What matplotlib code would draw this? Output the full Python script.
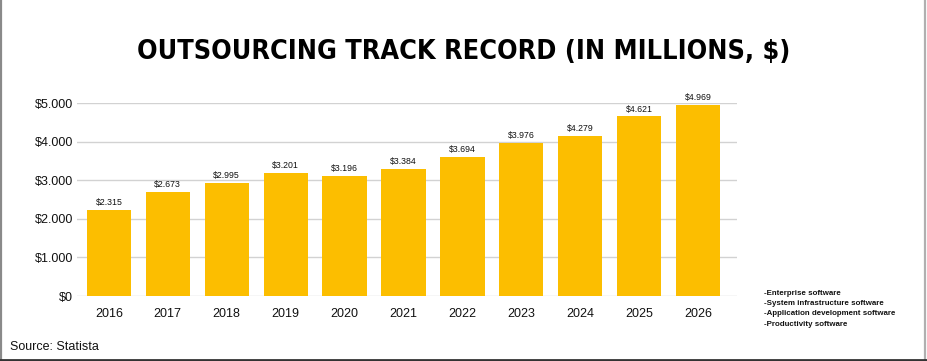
import matplotlib
matplotlib.use('Agg')
import matplotlib.pyplot as plt
from matplotlib.lines import Line2D

# data (bar heights as drawn, labels as printed)
years = ['2016', '2017', '2018', '2019', '2020', '2021',
         '2022', '2023', '2024', '2025', '2026']
bar_heights = [2236, 2694, 2927, 3187, 3109, 3298, 3609, 3972, 4145, 4655, 4956]
bar_texts = ['$2.315', '$2.673', '$2.995', '$3.201', '$3.196', '$3.384',
             '$3.694', '$3.976', '$4.279', '$4.621', '$4.969']
y_ticks = [0, 1000, 2000, 3000, 4000, 5000]
y_ticklabels = ['$0', '$1.000', '$2.000', '$3.000', '$4.000', '$5.000']
legend_items = ['-Enterprise software', '-System infrastructure software',
                '-Application development software', '-Productivity software']

plt.rcParams['font.family'] = ['Liberation Sans', 'DejaVu Sans']

fig = plt.figure(figsize=(9.27, 3.61), dpi=100)
ax = fig.add_axes([0.0831, 0.18, 0.712, 0.5346])

x = list(range(len(years)))
bars = ax.bar(x, bar_heights, width=0.75, color='#FCBE00', zorder=2)
ax.bar_label(bars, labels=bar_texts, padding=2, fontsize=6.3, color='#111111')

ax.set_xlim(-0.54, 10.66)
ax.set_ylim(0, 5000)
ax.set_xticks(x)
ax.set_xticklabels(years, fontsize=9, color='#111111')
ax.set_yticks(y_ticks)
ax.set_yticklabels(y_ticklabels, fontsize=9, color='#111111')
ax.tick_params(axis='x', length=0, pad=8.5)
ax.tick_params(axis='y', length=0, pad=3)
ax.grid(axis='y', color='#d2d2d2', linewidth=1)
ax.set_axisbelow(True)
for s in ax.spines.values():
    s.set_visible(False)

# title - condensed bold face
fig.text(0.5, 0.8366, 'OUTSOURCING TRACK RECORD (IN MILLIONS, $)',
         ha='center', va='baseline', fontsize=19.4, fontweight='bold',
         fontstretch='condensed', family=['DejaVu Sans'], color='#000000')

# the little "legend" at the bottom right
ys = [293.3, 303.3, 313.7, 324.0]
for txt, yy in zip(legend_items, ys):
    fig.text(764 / 927, 1 - yy / 361, txt, ha='left', va='center',
             fontsize=5.65, fontweight='bold', color='#111111')

fig.text(10 / 927, 0.0305, 'Source: Statista', ha='left', va='baseline',
         fontsize=9, color='#111111')

# frame around the picture (no top edge)
fig.add_artist(Line2D([0.001, 0.001], [0, 1], transform=fig.transFigure,
                      color='#8a8a8a', lw=1.6))
fig.add_artist(Line2D([0.998, 0.998], [0, 1], transform=fig.transFigure,
                      color='#b0b0b0', lw=1.6))
fig.add_artist(Line2D([0, 1], [0.003, 0.003], transform=fig.transFigure,
                      color='#333333', lw=2))

fig.savefig('out.png', dpi=100)
